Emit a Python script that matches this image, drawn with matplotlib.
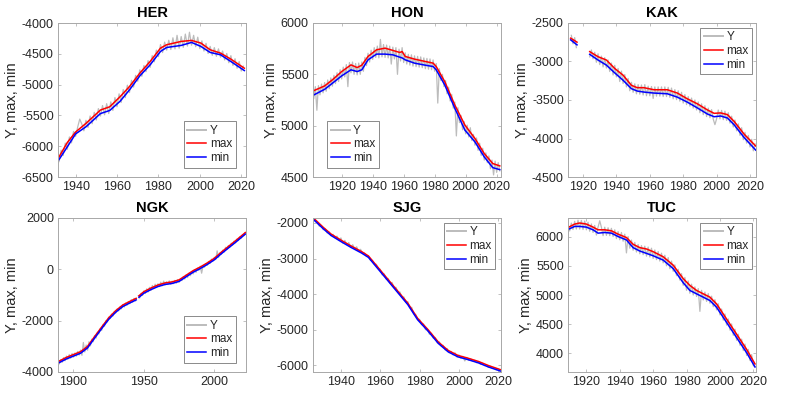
import numpy as np
import matplotlib
matplotlib.use("Agg")
import matplotlib.pyplot as plt

plt.rcParams["font.family"] = ["Liberation Sans", "DejaVu Sans"]
plt.rcParams["axes.unicode_minus"] = False

nan = np.nan

# ── HER ─────────────────────────────────────────────────────
her_years = np.arange(1932, 2022)
her_y = [-6250, -6065, -6150, -5950, -6050, -5850, -5945, -5760,
         -5840, -5690, -5560, -5640, -5750, -5580, -5695, -5510, -5635, -5450,
         -5575, -5390, -5510, -5340, -5490, -5310, -5470, -5280, -5420, -5210,
         -5360, -5150, -5290, -5080, -5210, -5010, -5130, -4930, -5040, -4850,
         -4945, -4760, -4865, -4690, -4790, -4610, -4720, -4530, -4630, -4440,
         -4545, -4350, -4480, -4310, -4440, -4280, -4430, -4240, -4420, -4200,
         -4410, -4220, -4395, -4180, -4375, -4150, -4360, -4200, -4385, -4230,
         -4415, -4290, -4455, -4330, -4495, -4380, -4525, -4400, -4540, -4420,
         -4555, -4455, -4600, -4495, -4645, -4530, -4690, -4580, -4735, -4625,
         -4780, -4700]
her_env_years = [1932, 1936, 1940, 1945, 1952, 1956.5, 1961.5, 1966, 1971, 1976,
                 1981, 1984, 1991, 1996, 2000.5, 2005, 2010, 2015, 2021.5]
her_max = [-6174, -5940, -5770, -5630, -5413, -5360, -5196, -5033, -4815, -4625,
           -4408, -4353, -4299, -4283, -4326, -4435, -4489, -4587, -4734]
her_min = [-6217, -6010, -5800, -5685, -5470, -5420, -5270, -5087, -4859, -4679,
           -4462, -4397, -4364, -4315, -4380, -4478, -4516, -4625, -4772]

# ── HON ─────────────────────────────────────────────────────
hon_years = np.arange(1902, 2023)
hon_y = [5265, 5380, 5150, 5390, 5300, 5405, 5320, 5420,
         5335, 5445, 5360, 5465, 5385, 5490, 5410, 5515, 5430, 5545,
         5455, 5570, 5475, 5595, 5380, 5615, 5515, 5620, 5500, 5605,
         5495, 5610, 5500, 5620, 5530, 5665, 5585, 5705, 5620, 5735,
         5645, 5760, 5665, 5775, 5660, 5840, 5670, 5790, 5665, 5785,
         5660, 5775, 5600, 5765, 5650, 5760, 5500, 5745, 5630, 5760,
         5615, 5710, 5600, 5695, 5590, 5690, 5580, 5680, 5575, 5675,
         5570, 5670, 5565, 5660, 5555, 5655, 5550, 5650, 5545, 5640,
         5530, 5605, 5220, 5555, 5440, 5500, 5380, 5440, 5310, 5375,
         5240, 5305, 5170, 5230, 4900, 5175, 5030, 5100, 4960, 5040,
         4920, 5005, 4890, 4980, 4855, 4915, 4810, 4880, 4760, 4830,
         4710, 4780, 4665, 4735, 4640, 4705, 4580, 4665, 4520, 4655,
         4545, 4640, 4560]
hon_env_years = [1902, 1909, 1914, 1920, 1926, 1930, 1933, 1937, 1942.5, 1948,
                 1953, 1957.5, 1959, 1961, 1967, 1974, 1979, 1981, 1986.5, 1993,
                 1999.5, 2006, 2012, 2017.5, 2022]
hon_max = [5341, 5387, 5446, 5527, 5592, 5566, 5589, 5674, 5739, 5755,
           5733, 5713, 5722, 5674, 5648, 5625, 5609, 5576, 5429, 5201,
           5006, 4875, 4728, 4631, 4608]
hon_min = [5299, 5354, 5413, 5485, 5544, 5527, 5544, 5641, 5697, 5697,
           5690, 5667, 5660, 5641, 5609, 5589, 5576, 5544, 5397, 5169,
           4957, 4842, 4696, 4591, 4572]

# ── KAK ─────────────────────────────────────────────────────
kak_years = np.arange(1913, 2024)
kak_y = [-2660, -2770, -2690, -2820, nan, nan, nan,
         nan, nan, nan, nan, -2940, -2850, -2965, -2880, -3010, -2900,
         -3040, -2930, -3070, -2950, -3085, -2980, -3130, -3020, -3175, -3050,
         -3200, -3090, -3260, -3125, -3285, -3170, -3330, -3220, -3380, -3270,
         -3400, -3290, -3420, -3300, -3425, -3305, -3435, -3300, -3445, -3320,
         -3445, -3325, -3480, -3330, -3450, -3330, -3450, -3330, -3455, -3330,
         -3455, -3335, -3465, -3345, -3485, -3365, -3495, -3380, -3515, -3400,
         -3540, -3430, -3560, -3455, -3580, -3475, -3605, -3500, -3630, -3525,
         -3665, -3550, -3690, -3575, -3715, -3605, -3730, -3625, -3750, -3820,
         -3745, -3630, -3745, -3635, -3755, -3645, -3765, -3665, -3800, -3710,
         -3850, -3760, -3900, -3810, -3960, -3860, -4015, -3920, -4060, -3960,
         -4110, -4010, -4160, -4070]
kak_env_years = [1912.6, 1916.4, 1920, 1924, 1929, 1934, 1939, 1944, 1949, 1952.5,
                 1956.5, 1962.5, 1970.5, 1976.5, 1982.5, 1988.5, 1994.5, 1998.5,
                 2002.5, 2006.5, 2010.5, 2016.5, 2023.4]
kak_max = [-2697, -2749, nan, -2872, -2938, -2981, -3091, -3178, -3310, -3340,
           -3340, -3367, -3367, -3410, -3485, -3550, -3629, -3673,
           -3668, -3690, -3778, -3944, -4097]
kak_min = [-2719, -2784, nan, -2907, -2981, -3047, -3148, -3244, -3353, -3384,
           -3397, -3410, -3419, -3463, -3528, -3603, -3682, -3717,
           -3708, -3734, -3822, -3988, -4150]

# ── NGK ─────────────────────────────────────────────────────
ngk_years = np.arange(1890, 2023)
ngk_y = [-3680, -3520, -3620, -3440, -3560, -3380, -3500, -3320, -3460, -3280,
         -3420, -3260, -3380, -3200, -3340, -3150, -3350, -2850, -3220, -2950,
         -3150, -2820, -2980, -2720, -2820, -2580, -2680, -2450, -2520, -2300,
         -2380, -2150, -2220, -2000, -2050, -1860, -1920, -1740, -1820, -1640,
         -1700, -1540, -1620, -1460, -1540, -1380, -1470, -1310, -1400, -1250,
         -1340, -1180, -1280, -1130, -1230, nan, -1030, -1120, -930, -1020,
         -840, -940, -760, -880, -700, -820, -630, -740, -580, -700,
         -560, -670, -500, -640, -460, -610, -480, -590, -450, -580,
         -460, -560, -430, -540, -400, -500, -360, -440, -280, -380,
         -210, -320, -150, -250, -90, -180, -20, -120, 50, -40,
         120, -150, 140, 80, 220, 160, 310, 230, 400, 320,
         470, 380, 720, 460, 650, 580, 750, 670, 860, 780,
         930, 860, 1020, 950, 1100, 1030, 1180, 1120, 1270, 1210,
         1340, 1330, 1440]
ngk_env_years = [1890, 1895, 1900, 1905, 1910, 1915, 1920, 1925, 1930, 1935,
                 1940, 1944.5, 1945.5, 1946.5, 1950, 1955, 1960, 1965, 1970, 1975,
                 1980, 1985, 1990, 1995, 2000, 2005, 2010, 2015, 2022]
ngk_max = [-3570, -3430, -3320, -3210, -3000, -2620, -2250, -1890, -1610, -1390,
           -1250, -1130, nan, -1030, -870, -730, -610, -530, -490, -410,
           -230, -50, 90, 250, 430, 670, 890, 1110, 1430]
ngk_min = [-3630, -3490, -3380, -3270, -3060, -2680, -2310, -1950, -1670, -1450,
           -1310, -1190, nan, -1090, -930, -790, -670, -590, -550, -470,
           -290, -110, 30, 190, 370, 610, 830, 1050, 1370]

# ── SJG ─────────────────────────────────────────────────────
sjg_years = np.arange(1926, 2022)
sjg_y = [-1870, -1960, -1980, -2090,
         -2070, -2190, -2160, -2280, -2250, -2360, -2320, -2420, -2370, -2490,
         -2420, -2570, -2490, -2610, -2550, -2690, -2610, -2730, -2670, -2800,
         -2740, -2860, -2840, -2940, -2930, -3050, -3050, -3160, -3160, -3280,
         -3300, -3460, -3430, -3580, -3560, -3700, -3670, -3820, -3810, -3950,
         -3940, -4090, -4080, -4230, -4210, -4390, -4370, -4560, -4570, -4710,
         -4710, -4860, -4840, -5000, -4980, -5130, -5100, -5240, -5220, -5370,
         -5340, -5460, -5440, -5570, -5530, -5650, -5610, -5710, -5650, -5770,
         -5710, -5800, -5750, -5880, -5780, -5860, -5820, -5890, -5860, -5930,
         -5900, -5970, -5940, -6010, -5990, -6060, -6030, -6090, -6070, -6130,
         -6110, -6170]
sjg_env_years = [1926.5, 1931, 1935, 1940, 1945, 1950.5, 1954, 1959, 1964, 1969,
                 1974, 1979, 1984.5, 1989.5, 1994.5, 1999.5, 2004.5, 2010, 2015, 2021]
sjg_max = [-1885, -2122, -2312, -2482, -2643, -2805, -2928, -3260, -3591, -3923,
           -4255, -4681, -5013, -5345, -5582, -5724, -5800, -5895, -6008, -6122]
sjg_min = [-1925, -2162, -2352, -2522, -2683, -2845, -2968, -3300, -3631, -3963,
           -4295, -4721, -5053, -5385, -5622, -5764, -5840, -5935, -6048, -6162]

# ── TUC ─────────────────────────────────────────────────────
tuc_years = np.arange(1909, 2022)
tuc_y = [6200,
         6095, 6230, 6120, 6260, 6128, 6280, 6128, 6275, 6120, 6265,
         6115, 6245, 6090, 6215, 6070, 6190, 6025, 6160, 6270, 6160,
         6015, 6160, 6020, 6150, 6015, 6140, 6000, 6115, 5965, 6085,
         5945, 6070, 5920, 6040, 5720, 6000, 5800, 5940, 5765, 5900,
         5735, 5865, 5705, 5845, 5690, 5835, 5665, 5820, 5650, 5800,
         5625, 5770, 5605, 5745, 5580, 5715, 5550, 5680, 5500, 5640,
         5450, 5580, 5405, 5515, 5330, 5440, 5255, 5365, 5165, 5300,
         5080, 5240, 5030, 5185, 5000, 5140, 4975, 5110, 4720, 5080,
         4915, 5050, 4890, 5025, 4860, 4980, 4800, 4920, 4745, 4850,
         4660, 4760, 4570, 4675, 4485, 4590, 4400, 4505, 4310, 4415,
         4225, 4330, 4140, 4245, 4050, 4160, 3965, 4070, 3880, 3980,
         3790, 3780]
tuc_env_years = [1909.5, 1913, 1916, 1920, 1924, 1927, 1931, 1935, 1939, 1944,
                 1948, 1952, 1956, 1960, 1966, 1972, 1978, 1982, 1986, 1990,
                 1994, 1998, 2004, 2010, 2016, 2021]
tuc_max = [6161, 6213, 6231, 6213, 6161, 6115, 6115, 6098, 6040, 5983,
           5867, 5810, 5787, 5741, 5654, 5510, 5280, 5164, 5078, 5020,
           4963, 4847, 4588, 4329, 4069, 3821]
tuc_min = [6127, 6173, 6173, 6161, 6115, 6058, 6069, 6058, 6000, 5942,
           5810, 5752, 5712, 5671, 5597, 5452, 5210, 5078, 5020, 4963,
           4905, 4790, 4530, 4271, 4012, 3769]

# ── PANEL SETTINGS ──────────────────────────────────────────
# name, data, xlim, ylim, yticks, xticks, legend loc, legend anchor
panels = [
    ("HER", her_years, her_y, her_env_years, her_max, her_min,
     (1931.5, 2022.3), (-6500, -4000), np.arange(-6500, -3999, 500),
     np.arange(1940, 2021, 20), "lower right", (0.945, 0.06)),
    ("HON", hon_years, hon_y, hon_env_years, hon_max, hon_min,
     (1901.5, 2022.8), (4500, 6000), np.arange(4500, 6001, 500),
     np.arange(1920, 2021, 20), "lower left", (0.075, 0.06)),
    ("KAK", kak_years, kak_y, kak_env_years, kak_max, kak_min,
     (1911, 2023.6), (-4500, -2500), np.arange(-4500, -2499, 500),
     np.arange(1920, 2021, 20), "upper right", (0.98, 0.97)),
    ("NGK", ngk_years, ngk_y, ngk_env_years, ngk_max, ngk_min,
     (1889, 2022.5), (-4000, 2000), np.arange(-4000, 2001, 2000),
     np.arange(1900, 2001, 50), "lower right", (0.945, 0.06)),
    ("SJG", sjg_years, sjg_y, sjg_env_years, sjg_max, sjg_min,
     (1925.8, 2021.4), (-6190, -1860), np.arange(-6000, -1999, 1000),
     np.arange(1940, 2021, 20), "upper right", (0.97, 0.97)),
    ("TUC", tuc_years, tuc_y, tuc_env_years, tuc_max, tuc_min,
     (1909, 2021.6), (3683, 6317), np.arange(4000, 6001, 500),
     np.arange(1920, 2021, 20), "upper right", (0.98, 0.97)),
]

# axes boxes in pixels (left, top) on a 793x393 canvas
col_left = [58, 313, 568]
row_top = [23, 218]
ax_w, ax_h = 188, 154
W, H = 793, 393

text_col = "#262626"
frame_col = "#a8a8a8"

fig = plt.figure(figsize=(7.93, 3.93), dpi=100)

for i, (name, yrs, yv, eyrs, emax, emin, xl, yl, yt, xt, loc, anchor) in enumerate(panels):
    r, c = divmod(i, 3)
    ax = fig.add_axes([col_left[c] / W, 1 - (row_top[r] + ax_h) / H, ax_w / W, ax_h / H])

    ax.plot(yrs, yv, color="#bcbcbc", lw=0.9, label="Y")
    ax.plot(eyrs, emax, color="red", lw=1.1, label="max")
    ax.plot(eyrs, emin, color="blue", lw=1.1, label="min")

    ax.set_xlim(*xl)
    ax.set_ylim(*yl)
    ax.set_yticks(yt)
    ax.set_xticks(xt)
    ax.set_title(name, fontsize=10.5, fontweight="bold", color="black", pad=4)
    ax.set_ylabel("Y, max, min", fontsize=10.5, color=text_col, labelpad=2)

    ax.tick_params(direction="in", length=2.5, width=0.5, colors=frame_col,
                   labelcolor=text_col, labelsize=9, top=True, right=True, pad=3)
    for s in ax.spines.values():
        s.set_color(frame_col)
        s.set_linewidth(0.7)

    leg = ax.legend(loc=loc, bbox_to_anchor=anchor, fontsize=8.5, frameon=True,
                    fancybox=False, borderaxespad=0, handlelength=1.6,
                    handletextpad=0.3, borderpad=0.3, labelspacing=0.15)
    leg.get_frame().set_edgecolor("#555555")
    leg.get_frame().set_linewidth(0.6)
    leg.get_lines()[0].set_linewidth(1.4)
    for t in leg.get_texts():
        t.set_color(text_col)

plt.savefig("out.png", dpi=100)
